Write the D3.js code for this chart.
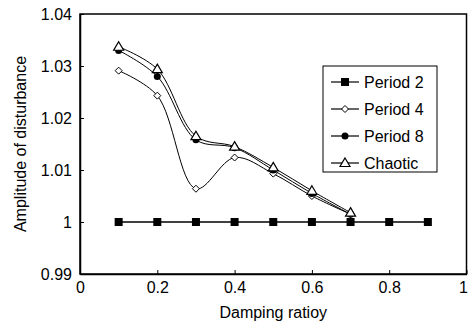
<!DOCTYPE html>
<html>
<head>
<meta charset="utf-8">
<script src="https://cdn.jsdelivr.net/npm/d3@7"></script>
<style>
  body { margin: 0; background: #fff; }
  svg { display: block; font-family: "Liberation Sans", Arial, sans-serif; }
</style>
</head>
<body>
<svg id="chart" width="468" height="329"></svg>
<script>
// damping ratio values
const ratios = [0.1, 0.2, 0.3, 0.4, 0.5, 0.6, 0.7];
const ratiosP2 = [0.1, 0.2, 0.3, 0.4, 0.5, 0.6, 0.7, 0.8, 0.9];

const period2 = [1, 1, 1, 1, 1, 1, 1, 1, 1];
const period4 = [1.0291, 1.0243, 1.0064, 1.0124, 1.0093, 1.0050, 1.0015];
const period8 = [1.0330, 1.0280, 1.0158, 1.0143, 1.0100, 1.0055, 1.0015];
const chaotic = [1.0337, 1.0294, 1.0165, 1.0145, 1.0105, 1.0060, 1.0018];

const xTicks = [0, 0.2, 0.4, 0.6, 0.8, 1];
const yTicks = [0.99, 1, 1.01, 1.02, 1.03, 1.04];

const series = [
  { name: 'Period 2', xs: ratiosP2, ys: period2, marker: 'square' },
  { name: 'Period 4', xs: ratios, ys: period4, marker: 'diamond' },
  { name: 'Period 8', xs: ratios, ys: period8, marker: 'circle' },
  { name: 'Chaotic', xs: ratios, ys: chaotic, marker: 'triangle' }
];

const svg = d3.select('#chart');
const margin = { left: 80, right: 1.5, top: 14, bottom: 55 };
const W = 468, H = 329;

const x = d3.scaleLinear().domain([0, 1]).range([margin.left, W - margin.right]);
const y = d3.scaleLinear().domain([0.99, 1.04]).range([H - margin.bottom, margin.top]);

// frame
svg.append('rect')
  .attr('x', x(0)).attr('y', y(1.04))
  .attr('width', x(1) - x(0)).attr('height', y(0.99) - y(1.04))
  .attr('fill', 'none').attr('stroke', '#000').attr('stroke-width', 1.5);

// axes (ticks pointing inward)
const fmtY = d => d === 1 ? '1' : d3.format('.2f')(d);
const xAxis = svg.append('g')
  .attr('transform', `translate(0,${y(0.99)})`)
  .call(d3.axisBottom(x).tickValues(xTicks).tickSizeInner(-4).tickSizeOuter(0).tickPadding(8)
    .tickFormat(d => d === 0 || d === 1 ? String(d) : d3.format('.1f')(d)));
const yAxis = svg.append('g')
  .attr('transform', `translate(${x(0)},0)`)
  .call(d3.axisLeft(y).tickValues(yTicks).tickSizeInner(-4).tickSizeOuter(0).tickPadding(8)
    .tickFormat(fmtY));

[xAxis, yAxis].forEach(a => {
  a.select('.domain').attr('stroke', '#000').attr('stroke-width', 1.5);
  a.selectAll('.tick line').attr('stroke', '#000');
  a.selectAll('.tick text').attr('fill', '#000').style('font-size', '16px');
});
// last label sits at the window edge; keep it inside
xAxis.selectAll('.tick text').filter(d => d === 1).attr('text-anchor', 'end').attr('dx', 1);

// axis titles
svg.append('text')
  .attr('x', (x(0) + x(1)) / 2).attr('y', 318)
  .attr('text-anchor', 'middle')
  .style('font-size', '16px')
  .text('Damping ratioy');

svg.append('text')
  .attr('transform', `translate(26,${(y(0.99) + y(1.04)) / 2}) rotate(-90)`)
  .attr('text-anchor', 'middle')
  .style('font-size', '16px')
  .text('Amplitude of disturbance');

// lines
const line = d3.line().curve(d3.curveCatmullRom.alpha(0.5));

const drawMarker = (g, type, cx, cy) => {
  if (type === 'square') {
    g.append('rect').attr('x', cx - 4).attr('y', cy - 4).attr('width', 8).attr('height', 8)
      .attr('fill', '#000');
  } else if (type === 'diamond') {
    g.append('path').attr('d', `M${cx},${cy - 3.5}L${cx + 3.5},${cy}L${cx},${cy + 3.5}L${cx - 3.5},${cy}Z`)
      .attr('fill', '#fff').attr('stroke', '#000').attr('stroke-width', 1);
  } else if (type === 'circle') {
    g.append('circle').attr('cx', cx).attr('cy', cy).attr('r', 3.5).attr('fill', '#000');
  } else {
    g.append('path').attr('d', `M${cx},${cy - 5}L${cx + 5},${cy + 3.5}L${cx - 5},${cy + 3.5}Z`)
      .attr('fill', '#fff').attr('stroke', '#000').attr('stroke-width', 1.2);
  }
};

series.forEach(s => {
  const pts = s.xs.map((v, i) => [x(v), y(s.ys[i])]);
  const g = svg.append('g');
  g.append('path')
    .attr('d', line(pts))
    .attr('fill', 'none')
    .attr('stroke', '#000')
    .attr('stroke-width', s.marker === 'square' ? 1.5 : 1);
  pts.forEach(p => drawMarker(g, s.marker, p[0], p[1]));
});

// legend
const lg = svg.append('g');
lg.append('rect')
  .attr('x', 323).attr('y', 66).attr('width', 114).attr('height', 106)
  .attr('fill', '#fff').attr('stroke', '#000').attr('stroke-width', 1);
series.forEach((s, i) => {
  const cy = 82 + i * 27;
  lg.append('line').attr('x1', 331).attr('x2', 359).attr('y1', cy).attr('y2', cy)
    .attr('stroke', '#000').attr('stroke-width', 1.2);
  drawMarker(lg, s.marker, 345, cy);
  lg.append('text').attr('x', 364).attr('y', cy).attr('dy', '0.35em')
    .style('font-size', '16px').text(s.name);
});
</script>
</body>
</html>
